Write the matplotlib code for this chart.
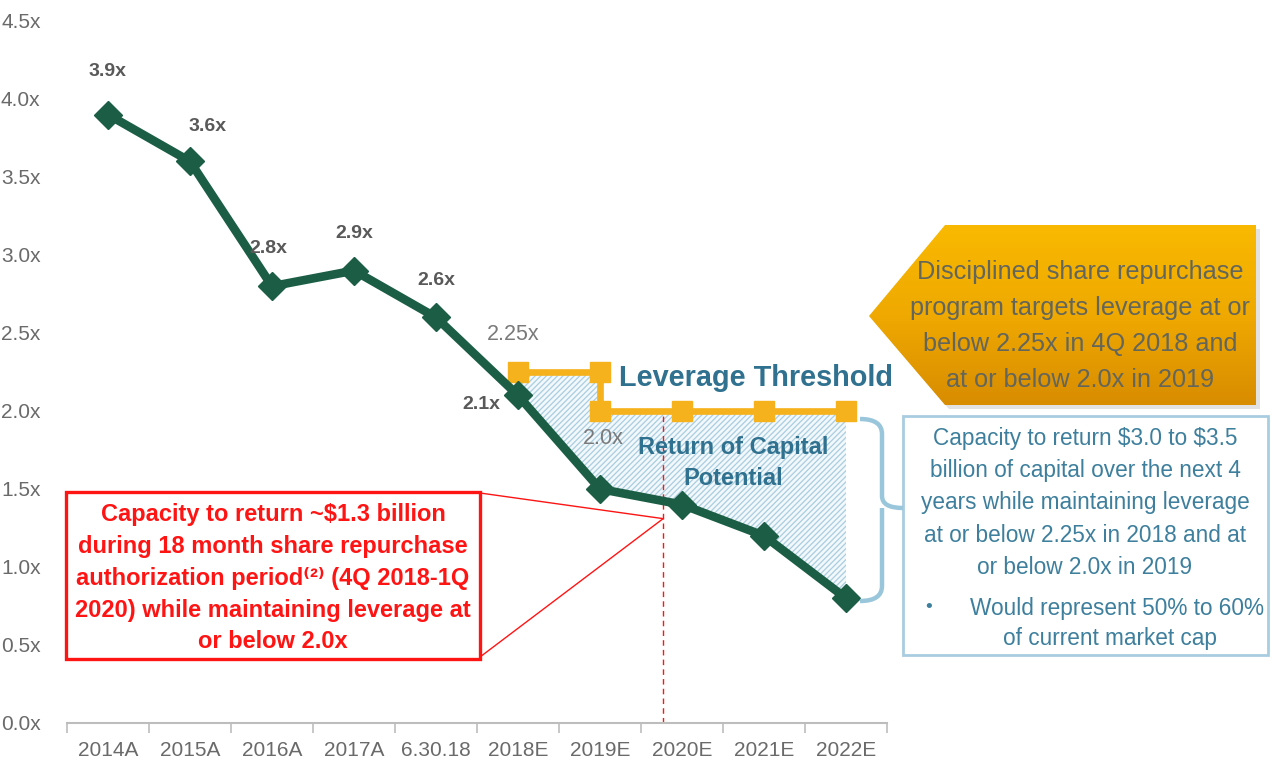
"""
Leverage path chart: historical / projected leverage vs. threshold
"""

import numpy as np
import matplotlib.pyplot as plt
from matplotlib.patches import Polygon, Rectangle, PathPatch
from matplotlib.path import Path
from matplotlib.colors import LinearSegmentedColormap

# ── Data ──────────────────────────────────────────────────────────────────────
categories = ["2014A", "2015A", "2016A", "2017A", "6.30.18",
              "2018E", "2019E", "2020E", "2021E", "2022E"]
leverage = [3.9, 3.6, 2.8, 2.9, 2.6, 2.1, 1.5, 1.4, 1.2, 0.8]
point_labels = ["3.9x", "3.6x", "2.8x", "2.9x", "2.6x", "2.1x"]

threshold_cats = ["2018E", "2019E", "2019E", "2020E", "2021E", "2022E"]
threshold_vals = [2.25, 2.25, 2.0, 2.0, 2.0, 2.0]

# end of the 18 month authorization period (1Q 2020) and the ~$1.3bn point
auth_end_x = 6.77
auth_end_y = 2.0
callout_y = 1.31

yticks = [0.0, 0.5, 1.0, 1.5, 2.0, 2.5, 3.0, 3.5, 4.0, 4.5]
ytick_labels = ["0.0x", "0.5x", "1.0x", "1.5x", "2.0x", "2.5x", "3.0x", "3.5x", "4.0x", "4.5x"]

# ── Style ─────────────────────────────────────────────────────────────────────
plt.rcParams.update({
    "font.family": ["Liberation Sans", "DejaVu Sans"],
    "hatch.linewidth": 0.9,
})

GREEN = "#1b5e45"
ORANGE = "#f6b21c"
TEAL = "#30718f"
BOX_TEXT = "#3d7f9c"
LIGHT_BLUE = "#a9cde0"
RED = "#ff1414"
GRAY = "#6a6a6a"

W, H = 1271, 767


def main():
    fig = plt.figure(figsize=(W / 100, H / 100), dpi=100)
    fig.patch.set_facecolor("white")
    ax = fig.add_axes([67 / W, 44 / H, 820 / W, 702 / H])

    x = np.arange(len(categories))
    tx = [categories.index(c) for c in threshold_cats]
    lower = [leverage[i] for i in tx]

    # hatched "return of capital" area
    ax.fill_between(tx, lower, threshold_vals, facecolor="#f2f8fb",
                    edgecolor=LIGHT_BLUE, hatch="//////", linewidth=0, zorder=1)

    # threshold line
    ax.plot(tx, threshold_vals, color=ORANGE, linewidth=4.8, marker="s",
            markersize=14, zorder=3, solid_capstyle="butt")

    # leverage line
    ax.plot(x, leverage, color=GREEN, linewidth=6.2, marker="D",
            markersize=14.5, zorder=4)

    # point labels
    offsets = [(0, 43), (18, 35), (-4, 38), (0, 37), (0, 37), (-37, -9)]
    for i, (lab, off) in enumerate(zip(point_labels, offsets)):
        ax.annotate(lab, (x[i], leverage[i]), xytext=off, textcoords="offset pixels",
                    ha="center", va="center", fontsize=14, fontweight="bold",
                    color="#595959", zorder=5)

    ax.annotate("2.25x", (tx[0], threshold_vals[0]), xytext=(-5, 38),
                textcoords="offset pixels", ha="center", va="center",
                fontsize=15.5, color="#7a7a7a")
    ax.annotate("2.0x", (tx[2], threshold_vals[2]), xytext=(3, -27),
                textcoords="offset pixels", ha="center", va="center",
                fontsize=15.5, color="#7a7a7a")

    ax.text(7.9, 2.21, "Leverage Threshold", ha="center", va="center",
            fontsize=20.8, fontweight="bold", color=TEAL, zorder=5)
    ax.text(7.63, 1.665, "Return of Capital\nPotential", ha="center", va="center",
            fontsize=17, fontweight="bold", color=TEAL, linespacing=1.42, zorder=5)

    # red dashed line (end of authorization period)
    ax.plot([auth_end_x, auth_end_x], [0, auth_end_y], color=RED, linewidth=1,
            linestyle=(0, (4, 3)), zorder=2)

    # axes cosmetics
    ax.set_xlim(-0.5, len(categories) - 0.5)
    ax.set_ylim(0, 4.5)
    ax.set_xticks(x)
    ax.set_xticklabels(categories, fontsize=15, color=GRAY)
    ax.set_xticks(np.arange(-0.5, len(categories), 1), minor=True)
    ax.tick_params(axis="x", which="major", length=0, pad=13)
    ax.tick_params(axis="x", which="minor", length=7, width=1.2, color="#bdbdbd")
    ax.set_yticks(yticks)
    ax.set_yticklabels(ytick_labels, fontsize=15, color=GRAY)
    ax.tick_params(axis="y", length=0, pad=19)
    for s in ["top", "right", "left"]:
        ax.spines[s].set_visible(False)
    ax.spines["bottom"].set_color("#bdbdbd")
    ax.spines["bottom"].set_linewidth(1.5)
    ax.patch.set_alpha(0)

    # ── overlay in pixel coordinates for the call-outs ───────────────────────
    ov = fig.add_axes([0, 0, 1, 1], zorder=5)
    ov.set_xlim(0, W)
    ov.set_ylim(H, 0)
    ov.axis("off")
    ov.patch.set_alpha(0)

    to_px = lambda p: ov.transData.inverted().transform(ax.transData.transform(p))
    cx, cy = to_px((auth_end_x, callout_y))

    # red callout box
    ov.add_patch(Rectangle((66, 492), 414, 167, facecolor="white",
                           edgecolor=RED, linewidth=2.4))
    ov.plot([480, cx], [493, cy], color=RED, linewidth=1)
    ov.plot([480, cx], [657, cy], color=RED, linewidth=1)
    ov.text(273, 578,
            "Capacity to return ~\\$1.3 billion\n"
            "during 18 month share repurchase\n"
            "authorization period\u207d\u00b2\u207e (4Q 2018-1Q\n"
            "2020) while maintaining leverage at\n"
            "or below 2.0x",
            ha="center", va="center", fontsize=17, fontweight="bold",
            color=RED, linespacing=1.5)

    # orange arrow with gradient
    arrow_pts = [(869, 316), (945, 225), (1256, 225), (1256, 405), (945, 405)]
    shadow = Polygon([(px + 4, py + 4) for px, py in arrow_pts], closed=True,
                     facecolor="#cfcfcf", edgecolor="none", alpha=0.6)
    ov.add_patch(shadow)
    arrow = Polygon(arrow_pts, closed=True, facecolor="none", edgecolor="none")
    ov.add_patch(arrow)
    cmap = LinearSegmentedColormap.from_list("gold", ["#f9b900", "#efa900", "#d88c00"])
    grad = np.linspace(0, 1, 256).reshape(-1, 1)
    im = ov.imshow(grad, extent=(869, 1256, 405, 225), cmap=cmap, aspect="auto",
                   origin="upper", zorder=2)
    im.set_clip_path(arrow)
    ov.text(1080, 326,
            "Disciplined share repurchase\n"
            "program targets leverage at or\n"
            "below 2.25x in 4Q 2018 and\n"
            "at or below 2.0x in 2019",
            ha="center", va="center", fontsize=18.2, color="#63665c",
            linespacing=1.62, zorder=3)

    # blue box + bracket
    ov.add_patch(Rectangle((903, 416), 365, 239, facecolor="white",
                           edgecolor=LIGHT_BLUE, linewidth=2))
    ov.text(1085, 503,
            "Capacity to return \\$3.0 to \\$3.5\n"
            "billion of capital over the next 4\n"
            "years while maintaining leverage\n"
            "at or below 2.25x in 2018 and at\n"
            "or below 2.0x in 2019",
            ha="center", va="center", fontsize=16.3, color=BOX_TEXT, linespacing=1.52)
    ov.text(929, 608, "\u2022", ha="center", va="center", fontsize=14, color=BOX_TEXT)
    ov.text(1117, 608, "Would represent 50% to 60%", ha="center", va="center",
            fontsize=16.3, color=BOX_TEXT)
    ov.text(1110, 638, "of current market cap", ha="center", va="center",
            fontsize=16.3, color=BOX_TEXT)

    verts = [(860, 419), (882, 419), (882, 434),
             (882, 496),
             (882, 508), (903, 508),
             (882, 508), (882, 520),
             (882, 586),
             (882, 601), (860, 601)]
    codes = [Path.MOVETO, Path.CURVE3, Path.CURVE3,
             Path.LINETO,
             Path.CURVE3, Path.CURVE3,
             Path.MOVETO, Path.CURVE3,
             Path.LINETO,
             Path.CURVE3, Path.CURVE3]
    ov.add_patch(PathPatch(Path(verts, codes), facecolor="none",
                           edgecolor="#9ac6db", linewidth=3.2))

    ov.set_xlim(0, W)
    ov.set_ylim(H, 0)

    fig.savefig("out.png", dpi=100)
    plt.close(fig)


if __name__ == "__main__":
    main()
